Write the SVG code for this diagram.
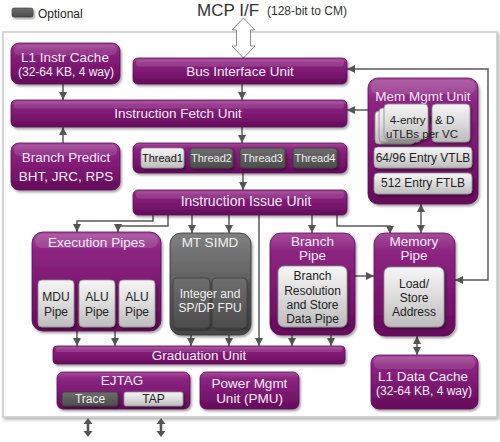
<svg xmlns="http://www.w3.org/2000/svg" width="500" height="442" viewBox="0 0 500 442">
<defs>
<linearGradient id="pg" x1="0" y1="0" x2="0" y2="1">
<stop offset="0" stop-color="#a64c9b"/><stop offset="0.18" stop-color="#8c2581"/><stop offset="0.6" stop-color="#7a176f"/><stop offset="1" stop-color="#640c5a"/>
</linearGradient>
<linearGradient id="lg" x1="0" y1="0" x2="0" y2="1">
<stop offset="0" stop-color="#f6f6f6"/><stop offset="0.5" stop-color="#dcdcdc"/><stop offset="1" stop-color="#bcbcbc"/>
</linearGradient>
<linearGradient id="dg" x1="0" y1="0" x2="0" y2="1">
<stop offset="0" stop-color="#808080"/><stop offset="0.5" stop-color="#5e5e5e"/><stop offset="1" stop-color="#474747"/>
</linearGradient>
<linearGradient id="sg" x1="0" y1="0" x2="0" y2="1">
<stop offset="0" stop-color="#6e6e6e"/><stop offset="1" stop-color="#4c4c4c"/>
</linearGradient>
<filter id="sh" x="-10%" y="-10%" width="130%" height="140%">
<feDropShadow dx="1.5" dy="2" stdDeviation="1.3" flood-color="#000" flood-opacity="0.35"/>
</filter>
<filter id="sh2" x="-5%" y="-5%" width="110%" height="110%">
<feDropShadow dx="1.5" dy="2" stdDeviation="1.5" flood-color="#000" flood-opacity="0.3"/>
</filter>
<marker id="ah" viewBox="0 0 10 10" refX="10" refY="5" markerWidth="8" markerHeight="8" markerUnits="userSpaceOnUse" orient="auto-start-reverse">
<path d="M0,0 L10,5 L0,10 z" fill="#555"/>
</marker>
</defs>
<style>
.p{fill:url(#pg);stroke:#5c0b53;stroke-width:0.8;filter:url(#sh)}
.l{fill:url(#lg);stroke:#8e8e8e;stroke-width:0.8;filter:url(#sh)}
.d{fill:url(#dg);stroke:#333;stroke-width:0.8;filter:url(#sh)}
.s{fill:url(#sg);stroke:#3c3c3c;stroke-width:0.8;filter:url(#sh)}
.hl{fill:#ffffff;opacity:0.12}
text{font-family:"Liberation Sans",Arial,sans-serif;text-anchor:middle}
.t{fill:#f7ecf6;font-size:13.5px}
.ts{fill:#f7ecf6;font-size:12px}
.tk{fill:#222;font-size:12px}
.tw{fill:#f0f0f0;font-size:12px}
.c{fill:none;stroke:#5a5a5a;stroke-width:1.5}
.ce{marker-end:url(#ah)}
.cb{marker-start:url(#ah);marker-end:url(#ah)}
</style>
<rect x="0" y="0" width="500" height="442" fill="#ffffff"/>
<g id="container">
<rect x="3" y="32" width="494" height="385" fill="#ffffff" stroke="#c9c9c9" stroke-width="1.5" filter="url(#sh2)"/>
</g>
<g id="legend">
<rect x="12" y="8" width="21" height="9" rx="2" fill="url(#sg)" stroke="#333" stroke-width="0.6" filter="url(#sh)"/>
<text x="38" y="18" style="font-size:12px;fill:#222;text-anchor:start">Optional</text>
</g>
<g id="title">
<text x="197" y="16" style="font-size:17px;fill:#333;text-anchor:start">MCP I/F</text>
<text x="267" y="15" style="font-size:12px;fill:#333;text-anchor:start">(128-bit to CM)</text>
</g>
<g id="connectors">
<polygon points="243.5,18 255,30 250.5,30 250.5,46 255,46 243.5,58 232,46 236.5,46 236.5,30 232,30" fill="#ffffff" stroke="#8a8a8a" stroke-width="1"/>
<path class="c ce" d="M63,84 V100"/>
<path class="c ce" d="M242,84 V100"/>
<path class="c ce" d="M63,143 V127"/>
<path class="c ce" d="M242,127 V143"/>
<path class="c ce" d="M243,173 V190"/>
<path class="c ce" d="M368,110 H347"/>
<path class="c cb" d="M347,69 H488 V280 H455"/>
<path class="c ce" d="M153,215 V221 H77 V232"/>
<path class="c ce" d="M168,215 V226 H118 V232"/>
<path class="c ce" d="M192,215 V233"/>
<path class="c ce" d="M229,215 V233"/>
<path class="c ce" d="M259,215 V346"/>
<path class="c ce" d="M312,215 V233"/>
<path class="c ce" d="M337,215 V226 H390 V234"/>
<path class="c cb" d="M421,204 V233"/>
<path class="c ce" d="M355,276 H374"/>
<path class="c cb" d="M417,336 V355"/>
<path class="c ce" d="M77,331 V346"/>
<path class="c ce" d="M115,331 V346"/>
<path class="c ce" d="M191,335 V346"/>
<path class="c ce" d="M229,335 V346"/>
<path class="c ce" d="M292,335 V346"/>
<path class="c ce" d="M331,335 V346"/>
<polygon points="88,418 92.5,424 89.3,424 89.3,431 92.5,431 88,437 83.5,431 86.7,431 86.7,424 83.5,424" fill="#555"/>
<polygon points="161,418 165.5,424 162.3,424 162.3,431 165.5,431 161,437 156.5,431 159.7,431 159.7,424 156.5,424" fill="#555"/>
</g>
<g id="l1-instr-cache">
<rect class="p" x="11" y="43" width="109" height="41" rx="8"/>
<rect class="hl" x="14" y="45" width="103" height="10" rx="5"/>
<text class="t" x="65" y="61.5">L1 Instr Cache</text>
<text class="ts" x="66" y="76">(32-64 KB, 4 way)</text>
</g>
<g id="bus-interface-unit">
<rect class="p" x="133" y="58" width="214" height="26" rx="5"/>
<rect class="hl" x="136" y="59.5" width="208" height="7" rx="3"/>
<text class="t" x="240" y="76">Bus Interface Unit</text>
</g>
<g id="instruction-fetch-unit">
<rect class="p" x="11" y="100" width="336" height="27" rx="5"/>
<rect class="hl" x="14" y="101.5" width="330" height="7" rx="3"/>
<text class="t" x="178" y="118">Instruction Fetch Unit</text>
</g>
<g id="branch-predict">
<rect class="p" x="11" y="143" width="109" height="47" rx="8"/>
<rect class="hl" x="14" y="145" width="103" height="11" rx="5"/>
<text class="t" x="66" y="162">Branch Predict</text>
<text class="t" x="66" y="181">BHT, JRC, RPS</text>
</g>
<g id="threads">
<rect class="p" x="133" y="143" width="214" height="30" rx="6"/>
<rect class="l" x="141" y="148" width="43" height="20" rx="3"/>
<text x="162.5" y="162" style="font-size:11px;fill:#111">Thread1</text>
<rect class="s" x="190" y="148" width="43" height="20" rx="3"/>
<text x="211.5" y="162" style="font-size:11px;fill:#eee">Thread2</text>
<rect class="s" x="240" y="148" width="45" height="20" rx="3"/>
<text x="262.5" y="162" style="font-size:11px;fill:#eee">Thread3</text>
<rect class="s" x="293" y="148" width="44" height="20" rx="3"/>
<text x="315" y="162" style="font-size:11px;fill:#eee">Thread4</text>
</g>
<g id="instruction-issue-unit">
<rect class="p" x="133" y="190" width="214" height="25" rx="5"/>
<rect class="hl" x="136" y="191.5" width="208" height="7" rx="3"/>
<text class="t" x="246" y="206" style="font-size:14px">Instruction Issue Unit</text>
</g>
<g id="mem-mgmt-unit">
<rect class="p" x="368" y="78" width="110" height="126" rx="10"/>
<rect class="hl" x="371" y="80" width="104" height="14" rx="6"/>
<text class="t" x="423" y="101">Mem Mgmt Unit</text>
<rect class="l" x="375" y="111" width="40" height="33" rx="4"/>
<rect class="l" x="379" y="108" width="42" height="34" rx="4"/>
<rect class="l" x="384" y="104" width="44" height="35" rx="4"/>
<rect class="l" x="432" y="104" width="38" height="38" rx="4"/>
<text x="422" y="123.5" style="font-size:11.5px;fill:#222">4-entry I &amp; D</text>
<text x="422" y="137.5" style="font-size:11.5px;fill:#222">uTLBs per VC</text>
<rect class="l" x="374" y="147" width="98" height="21" rx="4"/>
<text class="tk" x="423" y="162">64/96 Entry VTLB</text>
<rect class="l" x="374" y="173" width="98" height="21" rx="4"/>
<text class="tk" x="423" y="187">512 Entry FTLB</text>
</g>
<g id="execution-pipes">
<rect class="p" x="32" y="232" width="129" height="99" rx="11"/>
<rect class="hl" x="35" y="234" width="123" height="14" rx="7"/>
<text class="t" x="96.5" y="247">Execution Pipes</text>
<rect class="l" x="38" y="280" width="36" height="47" rx="4"/>
<text class="tk" x="56" y="301">MDU</text>
<text class="tk" x="56" y="316">Pipe</text>
<rect class="l" x="79" y="280" width="36" height="47" rx="4"/>
<text class="tk" x="97" y="301">ALU</text>
<text class="tk" x="97" y="316">Pipe</text>
<rect class="l" x="119" y="280" width="36" height="47" rx="4"/>
<text class="tk" x="137" y="301">ALU</text>
<text class="tk" x="137" y="316">Pipe</text>
</g>
<g id="mt-simd">
<rect class="d" x="170" y="233" width="81" height="102" rx="11"/>
<text class="t" x="210" y="247" style="fill:#f0f0f0">MT SIMD</text>
<rect class="s" x="173" y="278" width="37" height="50" rx="4"/>
<rect class="s" x="212" y="278" width="35" height="50" rx="4"/>
<text class="tw" x="210" y="297.5">Integer and</text>
<text class="tw" x="210" y="311.5">SP/DP FPU</text>
</g>
<g id="branch-pipe">
<rect class="p" x="270" y="233" width="85" height="102" rx="11"/>
<text class="t" x="312.5" y="246">Branch</text>
<text class="t" x="312.5" y="260">Pipe</text>
<rect class="l" x="278" y="266" width="69" height="61" rx="6"/>
<text class="tk" x="312.5" y="280">Branch</text>
<text class="tk" x="312.5" y="295">Resolution</text>
<text class="tk" x="312.5" y="309">and Store</text>
<text class="tk" x="312.5" y="323">Data Pipe</text>
</g>
<g id="memory-pipe">
<rect class="p" x="374" y="233" width="81" height="103" rx="11"/>
<text class="t" x="414" y="246">Memory</text>
<text class="t" x="414" y="260">Pipe</text>
<rect class="l" x="384" y="267" width="60" height="60" rx="6"/>
<text class="tk" x="414" y="288">Load/</text>
<text class="tk" x="414" y="302">Store</text>
<text class="tk" x="414" y="316">Address</text>
</g>
<g id="graduation-unit">
<rect class="p" x="53" y="346" width="292" height="18" rx="4"/>
<rect class="hl" x="56" y="347" width="286" height="5" rx="2"/>
<text class="t" x="199" y="360">Graduation Unit</text>
</g>
<g id="ejtag">
<rect class="p" x="57" y="372" width="133" height="37" rx="6"/>
<text class="t" x="122" y="385">EJTAG</text>
<rect class="s" x="62" y="392" width="56" height="14" rx="2"/>
<text x="90" y="403" style="font-size:12px;fill:#eee">Trace</text>
<rect class="l" x="124" y="392" width="59" height="14" rx="2"/>
<text x="153.5" y="403" style="font-size:12px;fill:#222">TAP</text>
</g>
<g id="power-mgmt-unit">
<rect class="p" x="200" y="372" width="99" height="37" rx="6"/>
<text class="t" x="249.5" y="388">Power Mgmt</text>
<text class="t" x="249.5" y="403">Unit (PMU)</text>
</g>
<g id="l1-data-cache">
<rect class="p" x="371" y="355" width="107" height="54" rx="8"/>
<rect class="hl" x="374" y="357" width="101" height="12" rx="5"/>
<text class="t" x="423" y="381">L1 Data Cache</text>
<text class="ts" x="424" y="395">(32-64 KB, 4 way)</text>
</g>
</svg>
